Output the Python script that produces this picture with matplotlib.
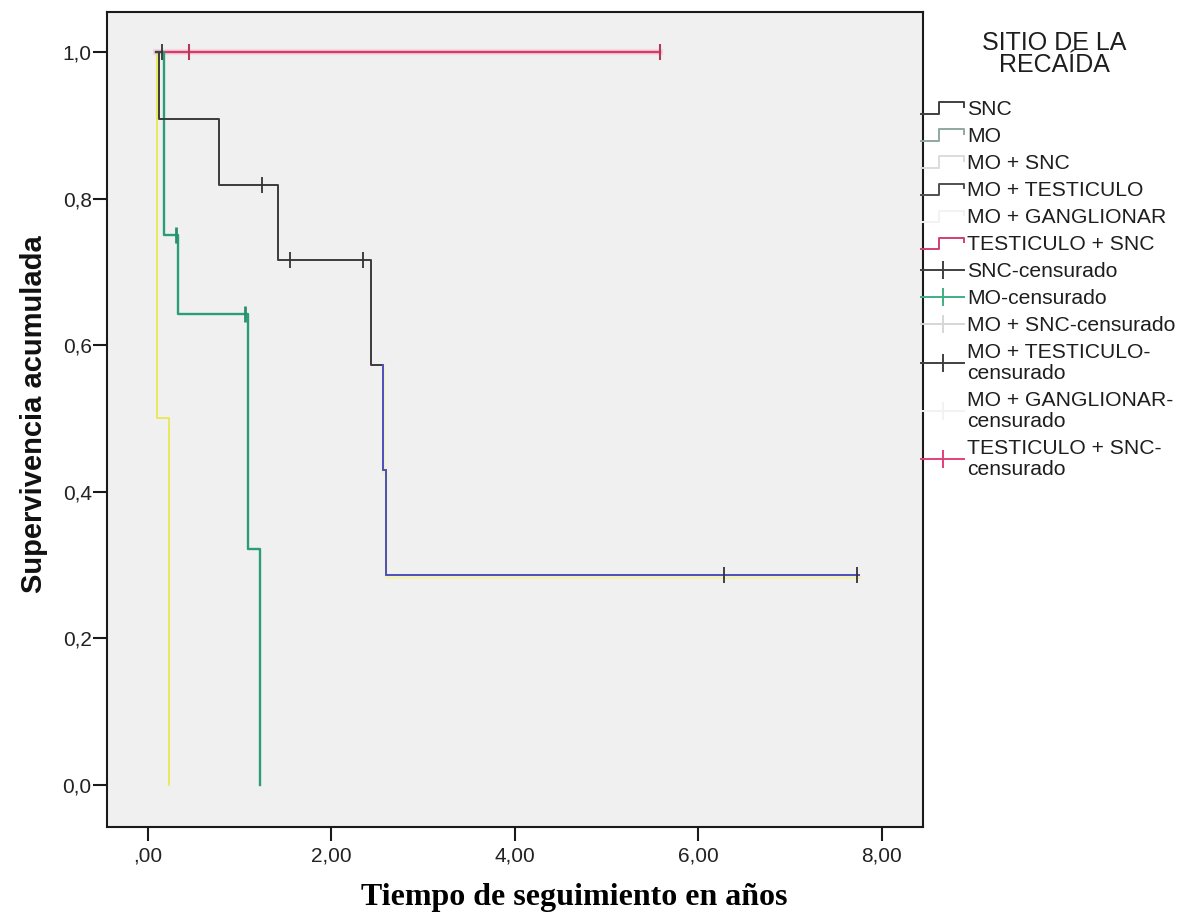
import matplotlib
matplotlib.use("Agg")
import matplotlib.pyplot as plt
import numpy as np
from matplotlib.lines import Line2D
from matplotlib.legend_handler import HandlerBase, HandlerLine2D
from matplotlib.transforms import offset_copy

# ---------------- data ----------------
# each curve: start time, event times, survival after each event, last follow-up time
snc_start = 0.09
snc_event_t = [0.12, 0.77, 1.42, 2.43, 2.56, 2.60]
snc_event_s = [0.909, 0.818, 0.716, 0.573, 0.430, 0.286]
snc_end = 7.75
snc_cens_t = [1.24, 1.55, 2.35, 6.28, 7.73]
snc_cens_s = [0.818, 0.716, 0.716, 0.286, 0.286]
snc_tail_from = 2.56   # part of the SNC curve that shows in blue

mo_start = 0.09
mo_event_t = [0.17, 0.33, 1.09, 1.22]
mo_event_s = [0.75, 0.643, 0.322, 0.0]
mo_end = 1.22
mo_cens_t = [0.30, 1.06]
mo_cens_s = [0.75, 0.643]

gang_start = 0.09
gang_event_t = [0.10, 0.23]
gang_event_s = [0.50, 0.0]
gang_end = 0.23

motest_start = 0.09
motest_event_t = []
motest_event_s = []
motest_end = 0.15
motest_cens_t = [0.15]
motest_cens_s = [1.0]

testsnc_start = 0.09
testsnc_event_t = []
testsnc_event_s = []
testsnc_end = 5.58
testsnc_cens_t = [0.45, 5.58]
testsnc_cens_s = [1.0, 1.0]

legend_labels = ["SNC", "MO", "MO + SNC", "MO + TESTICULO", "MO + GANGLIONAR",
                 "TESTICULO + SNC", "SNC-censurado", "MO-censurado",
                 "MO + SNC-censurado", "MO + TESTICULO-\ncensurado",
                 "MO + GANGLIONAR-\ncensurado", "TESTICULO + SNC-\ncensurado"]
legend_colors = ["#404040", "#8fa8a0", "#dcdcdc", "#505050", "#f2f2f2", "#d0406e",
                 "#404040", "#3fb083", "#d6d6d6", "#404040", "#f2f2f2", "#e0407a"]

xticks = [0, 2, 4, 6, 8]
xtick_labels = [",00", "2,00", "4,00", "6,00", "8,00"]
yticks = [0.0, 0.2, 0.4, 0.6, 0.8, 1.0]
ytick_labels = ["0,0", "0,2", "0,4", "0,6", "0,8", "1,0"]


def km_path(start, ev_t, ev_s, end):
    t = [start] + list(ev_t) + [end]
    s = [1.0] + list(ev_s) + [ev_s[-1] if len(ev_s) else 1.0]
    return np.array(t), np.array(s)


W, H = 1188, 915
fig = plt.figure(figsize=(W / 100, H / 100), dpi=100)
fig.patch.set_facecolor("white")
ax = fig.add_axes([107 / W, 1 - 827 / H, (923 - 107) / W, (827 - 12) / H])
ax.set_facecolor("#f0f0f0")

x0_px, x_per = 148.0, 91.7
y0_px, y_per = 785.0, 733.0
ax.set_xlim((107 - x0_px) / x_per, (923 - x0_px) / x_per)
ax.set_ylim((y0_px - 827) / y_per, (y0_px - 12) / y_per)

lw = 1.4
# red TESTICULO + SNC
t, s = km_path(testsnc_start, testsnc_event_t, testsnc_event_s, testsnc_end)
ax.plot(t, s, drawstyle="steps-post", color="#f4c8d6", lw=4.5, zorder=2.8,
        alpha=0.6)
ax.plot(t, s, drawstyle="steps-post", color="#d83a6a", lw=lw + 0.3, zorder=3)
ax.plot(testsnc_cens_t, testsnc_cens_s, ls="none", marker="|", ms=11, mew=1.5,
        color="#b03a5a", zorder=6)

# yellow MO + GANGLIONAR
t, s = km_path(gang_start, gang_event_t, gang_event_s, gang_end)
ax.plot(t, s, drawstyle="steps-post", color="#e8e834", lw=1.1, zorder=2)

# green MO
t, s = km_path(mo_start, mo_event_t, mo_event_s, mo_end)
ax.plot(t, s, drawstyle="steps-post", color="#2a9d78", lw=lw + 0.3, zorder=3)
ax.plot(mo_cens_t, mo_cens_s, ls="none", marker="|", ms=11, mew=2,
        color="#2a8f6c", zorder=6)

# dark SNC
t, s = km_path(snc_start, snc_event_t, snc_event_s, snc_end)
ax.plot(t, s, drawstyle="steps-post", color="#3c3c3c", lw=lw, zorder=4)
mask = t >= snc_tail_from
tt = np.concatenate([[snc_tail_from], t[mask]])
ss = np.concatenate([[s[t < snc_tail_from][-1]], s[mask]])
ax.plot(tt, ss, drawstyle="steps-post", color="#f2f2b8", lw=2.2, zorder=3.5,
        transform=offset_copy(ax.transData, fig=fig, x=0, y=-2, units="dots"))
ax.plot(tt, ss, drawstyle="steps-post", color="#5252c4", lw=lw, zorder=4.5)
ax.plot(snc_cens_t, snc_cens_s, ls="none", marker="|", ms=11, mew=1.3,
        color="#333333", zorder=6)

# MO + TESTICULO
t, s = km_path(motest_start, motest_event_t, motest_event_s, motest_end)
ax.plot(t, s, drawstyle="steps-post", color="#444444", lw=lw, zorder=5)
ax.plot(motest_cens_t, motest_cens_s, ls="none", marker="|", ms=11, mew=1.3,
        color="#333333", zorder=6)

# axes styling
for sp in ax.spines.values():
    sp.set_linewidth(1.5)
    sp.set_color("#1a1a1a")
ax.set_xticks(xticks)
ax.set_xticklabels(xtick_labels)
ax.set_yticks(yticks)
ax.set_yticklabels(ytick_labels)
for lab in ax.get_xticklabels() + ax.get_yticklabels():
    lab.set_fontfamily("Liberation Sans")
    lab.set_fontsize(15)
    lab.set_color("#222222")
ax.tick_params(axis="x", length=10, width=1.5, pad=4, color="#1a1a1a")
ax.tick_params(axis="y", length=10, width=1.5, pad=1, color="#1a1a1a")

fig.text(34 / W, 1 - 414 / H, "Supervivencia acumulada",
         fontfamily="Liberation Sans", fontweight="bold", fontsize=21,
         rotation=90, ha="center", va="center", color="#111111")
fig.text(574 / W, 1 - 897 / H, "Tiempo de seguimiento en años",
         fontfamily="Liberation Serif", fontweight="bold", fontsize=23,
         ha="center", va="center")

# legend
class StepHandler(HandlerBase):
    def create_artists(self, legend, orig_handle, xdescent, ydescent,
                       width, height, fontsize, trans):
        x0 = -xdescent
        y0 = -ydescent
        xs = [x0, x0 + 0.42 * width, x0 + 0.42 * width, x0 + width, x0 + width]
        ys = [y0 + 0.1 * height, y0 + 0.1 * height, y0 + 0.85 * height,
              y0 + 0.85 * height, y0 + 0.55 * height]
        ln = Line2D(xs, ys, color=orig_handle.get_color(), lw=1.4)
        ln.set_transform(trans)
        return [ln]


handles = []
hmap = {}
for i, (lab, col) in enumerate(zip(legend_labels, legend_colors)):
    if i < 6:
        h = Line2D([], [], color=col, lw=1.4)
        hmap[h] = StepHandler()
    else:
        h = Line2D([], [], color=col, lw=1.4, marker="|", ms=13, mew=1.4)
        hmap[h] = HandlerLine2D(numpoints=1)
    handles.append(h)

leg = fig.legend(handles, legend_labels, handler_map=hmap,
                 loc="upper left", bbox_to_anchor=(921 / W, 1 - 100 / H),
                 frameon=False, borderpad=0, borderaxespad=0,
                 handlelength=2.04, handletextpad=0.14, labelspacing=0.38,
                 prop=dict(family="Liberation Sans", size=15.2))
for txt in leg.get_texts():
    txt.set_color("#1e1e1e")
    txt.set_linespacing(1.12)

fig.text(1054 / W, 1 - 54 / H, "SITIO DE LA\nRECAÍDA",
         fontfamily="Liberation Sans", fontsize=18, ha="center", va="center",
         linespacing=0.9, color="#1e1e1e")

fig.savefig("out.png", dpi=100, facecolor="white")
